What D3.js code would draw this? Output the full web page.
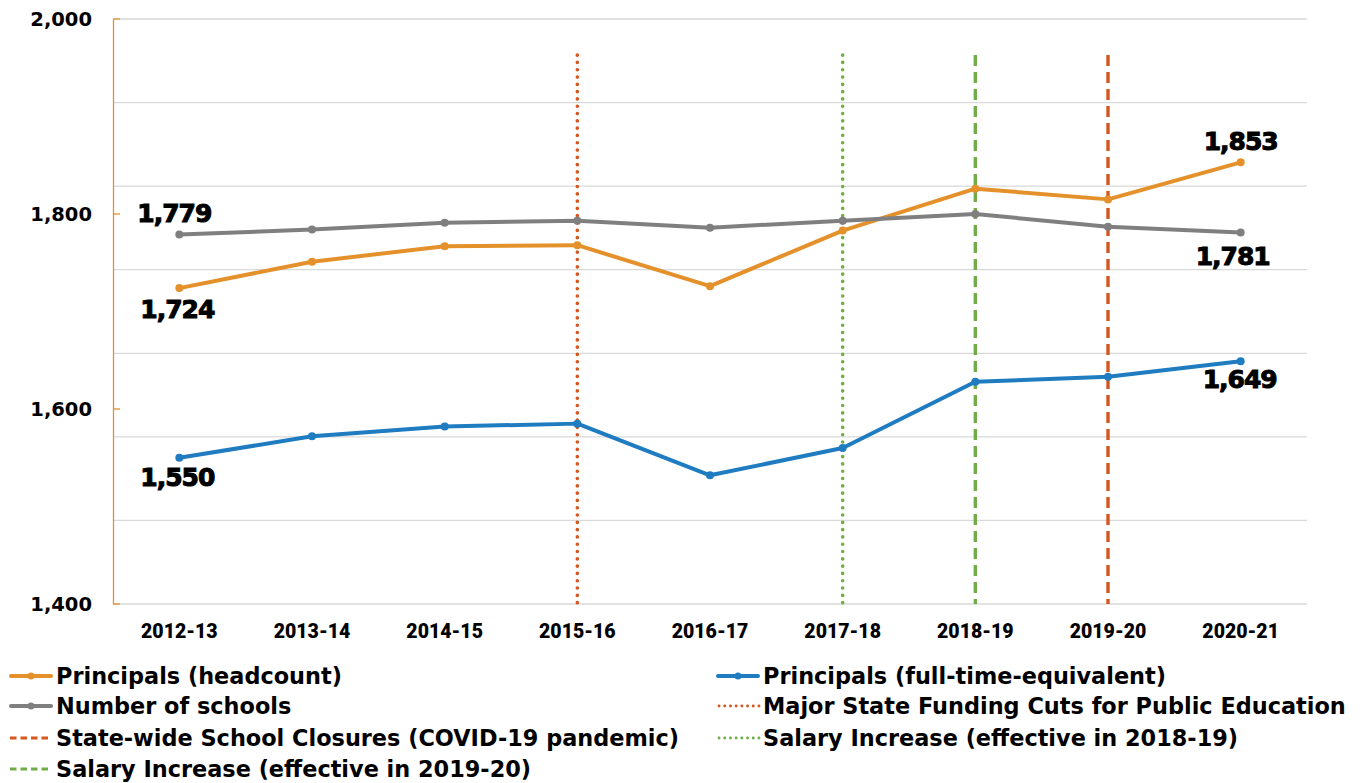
<!DOCTYPE html>
<html><head><meta charset="utf-8">
<script src="https://cdn.jsdelivr.net/npm/d3@7"></script>
<style>body{margin:0;background:#fff;} svg{display:block;}</style>
</head><body>
<svg id="c" width="1364" height="783"></svg>
<script>
const categories = ["2012-13","2013-14","2014-15","2015-16","2016-17","2017-18","2018-19","2019-20","2020-21"];
const headcount = [1724,1751,1767,1768,1726,1783,1826,1815,1853];
const schools   = [1779,1784,1791,1793,1786,1793,1800,1787,1781];
const fte       = [1550,1572,1582,1585,1532,1560,1628,1633,1649];
const yTicks = [1400,1600,1800,2000];
const gridCount = 7;
const events = [
  {cat:"2015-16", name:"Major State Funding Cuts for Public Education", color:"#D6561F", dash:"0.1 7.2", width:3.6, cap:"round"},
  {cat:"2017-18", name:"Salary Increase (effective in 2018-19)", color:"#70AD47", dash:"0.1 7.2", width:3.6, cap:"round"},
  {cat:"2018-19", name:"Salary Increase (effective in 2019-20)", color:"#70AD47", dash:"11 6", width:3.4, cap:"butt"},
  {cat:"2019-20", name:"State-wide School Closures (COVID-19 pandemic)", color:"#D6561F", dash:"11 6", width:3.4, cap:"butt"}
];
const eventTop = 1963;
const series = [
  {name:"Principals (headcount)", values:headcount, color:"#E4912B", labels:[{i:0,dx:-2,dy:30},{i:8,dx:0,dy:-12}]},
  {name:"Number of schools", values:schools, color:"#7F7F7F", labels:[{i:0,dx:-5,dy:-12},{i:8,dx:-8,dy:32}]},
  {name:"Principals (full-time-equivalent)", values:fte, color:"#1F7CC1", labels:[{i:0,dx:-2,dy:28},{i:8,dx:-1,dy:27}]}
];

const svg = d3.select("#c");
const m = {l:113, r:1307, t:19, b:604};
const x = d3.scaleBand().domain(categories).range([m.l, m.r]);
const y = d3.scaleLinear().domain([1400,2000]).range([m.b, m.t]);
const cx = c => x(c) + x.bandwidth()/2;

// gridlines
const gy = d3.scaleLinear().domain([0,gridCount]).range([m.b, m.t]);
svg.append("g").selectAll("line").data(d3.range(gridCount+1)).join("line")
  .attr("x1", m.l).attr("x2", m.r).attr("y1", d=>gy(d)).attr("y2", d=>gy(d))
  .attr("stroke", "#D9D9D9").attr("stroke-width", 1.3);

// y axis
const yAxis = svg.append("g").attr("transform", `translate(${m.l},0)`)
  .call(d3.axisLeft(y).tickValues(yTicks).tickSize(0).tickPadding(21).tickFormat(d3.format(",")));
yAxis.select(".domain").attr("stroke", "#E4912B").attr("stroke-width", 1.3);
yAxis.selectAll("text").attr("font-family","'DejaVu Sans'").attr("font-weight","bold").attr("font-size","19.5px").attr("fill","#000");
svg.append("g").selectAll("line").data(yTicks).join("line")
  .attr("x1", m.l).attr("x2", m.l+7).attr("y1", d=>y(d)).attr("y2", d=>y(d))
  .attr("stroke", "#E4912B").attr("stroke-width", 1.3);

// x axis
const xAxis = svg.append("g").attr("transform", `translate(0,${m.b})`)
  .call(d3.axisBottom(x).tickSize(0).tickPadding(20));
xAxis.select(".domain").remove();
xAxis.selectAll("text").attr("font-family","Roboto").attr("font-weight","900").attr("font-size","19.5px").attr("fill","#000");

// event lines
svg.append("g").selectAll("line").data(events).join("line")
  .attr("x1", d=>cx(d.cat)).attr("x2", d=>cx(d.cat))
  .attr("y1", y(eventTop)).attr("y2", y(1400))
  .attr("stroke", d=>d.color).attr("stroke-width", d=>d.width)
  .attr("stroke-dasharray", d=>d.dash).attr("stroke-linecap", d=>d.cap);

// series
const line = d3.line().x((d,i)=>cx(categories[i])).y(d=>y(d));
series.forEach(s => {
  svg.append("path").datum(s.values).attr("d", line)
    .attr("fill","none").attr("stroke", s.color).attr("stroke-width", 4).attr("stroke-linejoin","round");
  svg.append("g").selectAll("circle").data(s.values).join("circle")
    .attr("cx", (d,i)=>cx(categories[i])).attr("cy", d=>y(d)).attr("r", 4).attr("fill", s.color);
});
// data labels
series.forEach(s => {
  svg.append("g").selectAll("text").data(s.labels).join("text")
    .attr("x", d=>cx(categories[d.i]) + d.dx).attr("y", d=>y(s.values[d.i]) + d.dy)
    .attr("text-anchor","middle")
    .attr("font-family","'DejaVu Sans'").attr("font-weight","bold").attr("font-size","25px")
    .attr("letter-spacing","-1px").attr("fill","#000").attr("stroke","#000").attr("stroke-width",1)
    .text(d=>d3.format(",")(s.values[d.i]));
});

// legend
const legendItems = [
  {name:series[0].name, color:series[0].color, type:"series"},
  {name:series[2].name, color:series[2].color, type:"series"},
  {name:series[1].name, color:series[1].color, type:"series"},
  {name:events[0].name, color:events[0].color, type:"event", ev:events[0]},
  {name:events[3].name, color:events[3].color, type:"event", ev:events[3]},
  {name:events[1].name, color:events[1].color, type:"event", ev:events[1]},
  {name:events[2].name, color:events[2].color, type:"event", ev:events[2]}
];
const colX = [10, 717];
const rowY = [676, 706, 738, 769];
const lg = svg.append("g");
legendItems.forEach((d,k) => {
  const gx = colX[k%2], gyy = rowY[Math.floor(k/2)];
  const g = lg.append("g").attr("transform", `translate(${gx},${gyy})`);
  if (d.type==="series") {
    g.append("line").attr("x1",1).attr("x2",41).attr("y1",0).attr("y2",0)
      .attr("stroke", d.color).attr("stroke-width", 4).attr("stroke-linecap","round");
    g.append("circle").attr("cx",21).attr("cy",0).attr("r",3.5).attr("fill", d.color);
  } else {
    const dotted = d.ev.cap==="round";
    g.append("line").attr("x1",dotted?2:0).attr("x2",42).attr("y1",0).attr("y2",0)
      .attr("stroke", d.color).attr("stroke-width", dotted?2.8:2.8)
      .attr("stroke-dasharray", dotted?"0.1 5.6":"6.5 4").attr("stroke-linecap", d.ev.cap);
  }
  g.append("text").attr("x", 46).attr("y", 0).attr("dy","0.36em")
    .attr("font-family","'DejaVu Sans'").attr("font-weight","bold").attr("font-size","22.4px")
    .attr("fill","#000").text(d.name);
});
</script>
</body></html>
